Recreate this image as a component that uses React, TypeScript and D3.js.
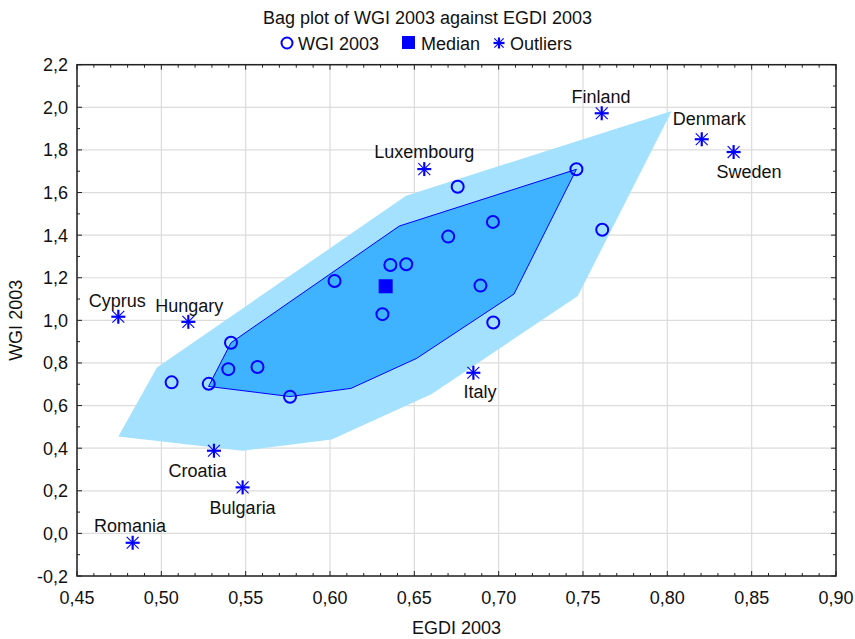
import React from "react";
import * as d3 from "d3";

// ---------- data ----------
const wgiEgdi: number[] = [0.5061, 0.5281, 0.5413, 0.5397, 0.557, 0.5763, 0.6027, 0.6311, 0.6358, 0.6452, 0.6701, 0.6757, 0.6892, 0.6966, 0.6968, 0.7461, 0.7614];
const wgiValues: number[] = [0.709, 0.702, 0.895, 0.771, 0.781, 0.641, 1.185, 1.029, 1.26, 1.263, 1.393, 1.627, 1.163, 1.462, 0.99, 1.709, 1.425];
const medianEgdi = 0.633;
const medianWgi = 1.16;
const outlierNames: string[] = ["Cyprus", "Hungary", "Croatia", "Bulgaria", "Romania", "Luxembourg", "Italy", "Finland", "Denmark", "Sweden"];
const outlierEgdi: number[] = [0.4745, 0.516, 0.5312, 0.5482, 0.483, 0.6559, 0.685, 0.7611, 0.8204, 0.8393];
const outlierWgi: number[] = [1.017, 0.993, 0.388, 0.216, -0.044, 1.71, 0.754, 1.972, 1.85, 1.79];
const outerBagEgdi: number[] = [0.4745, 0.4974, 0.6451, 0.8026, 0.7469, 0.6603, 0.601, 0.5482];
const outerBagWgi: number[] = [0.4545, 0.7784, 1.585, 1.9826, 1.1141, 0.654, 0.4413, 0.3878];
const innerBagEgdi: number[] = [0.528, 0.5413, 0.6411, 0.7461, 0.7091, 0.6514, 0.6125, 0.5763];
const innerBagWgi: number[] = [0.69, 0.895, 1.4427, 1.709, 1.1235, 0.8216, 0.6808, 0.6423];
const xTicks: number[] = [0.45, 0.5, 0.55, 0.6, 0.65, 0.7, 0.75, 0.8, 0.85, 0.9];
const yTicks: number[] = [-0.2, 0, 0.2, 0.4, 0.6, 0.8, 1.0, 1.2, 1.4, 1.6, 1.8, 2.0, 2.2];
const titleText = "Bag plot of WGI 2003 against EGDI 2003";
const xTitle = "EGDI 2003";
const yTitle = "WGI 2003";
const legendLabels = ["WGI 2003", "Median", "Outliers"];

// ---------- layout (label placement relative to marker) ----------
const labelDx: number[] = [-1, 1, -16.5, 0, -2.7, 0, 6.7, -0.7, 7.5, 15.5];
const labelDy: number[] = [-10, -10, 26, 26.5, -11, -10.7, 25.6, -10.6, -14, 25.7];

const W = 855;
const H = 639;
const left = 77, right = 836, top = 64.7, bottom = 576;
const FONT = "'Liberation Sans', Arial, sans-serif";
const BLUE = "#0000FF";

const locale = d3.formatLocale({ decimal: ",", thousands: ".", grouping: [3], currency: ["", ""], minus: "-" });
const fmt2 = locale.format(".2f");
const fmt1 = locale.format(".1f");

function Star({ x, y, s = 7 }: { x: number; y: number; s?: number }) {
  const d = s * 0.85;
  return (
    <g transform={`translate(${x},${y})`} stroke={BLUE} fill="none">
      <line x1={-s} y1={0} x2={s} y2={0} strokeWidth={2.2} />
      <line x1={0} y1={-s} x2={0} y2={s} strokeWidth={2.2} />
      <line x1={-d} y1={-d} x2={d} y2={d} strokeWidth={1.1} />
      <line x1={-d} y1={d} x2={d} y2={-d} strokeWidth={1.1} />
    </g>
  );
}

export default function App() {
  const x = d3.scaleLinear().domain([0.45, 0.9]).range([left, right]);
  const y = d3.scaleLinear().domain([-0.2, 2.2]).range([bottom, top]);

  const poly = (xs: number[], ys: number[]) =>
    d3.line<number>().x((_, i) => x(xs[i])).y((_, i) => y(ys[i])).curve(d3.curveLinearClosed)(xs) || "";

  const xMinor = d3.range(0, 46).map((i) => 0.45 + i * 0.01);
  const yMinor = d3.range(0, 25).map((i) => -0.2 + i * 0.1);

  return (
    <div style={{ position: "fixed", left: 0, top: 0 }}>
      <svg width={W} height={H} style={{ display: "block", background: "#fff" }} fontFamily={FONT}>
        <rect x={0} y={0} width={W} height={H} fill="#fff" />
        {/* title */}
        <text x={427.5} y={24} textAnchor="middle" fontSize={18} fill="#111">{titleText}</text>
        {/* legend */}
        <g fontSize={18} fill="#111">
          <circle cx={287} cy={43} r={5.5} fill="none" stroke={BLUE} strokeWidth={2} />
          <text x={298} y={49.5}>{legendLabels[0]}</text>
          <rect x={402} y={36} width={13} height={13} fill={BLUE} />
          <text x={421} y={49.5}>{legendLabels[1]}</text>
          <Star x={499} y={43} s={5.5} />
          <text x={510} y={49.5}>{legendLabels[2]}</text>
        </g>
        {/* grid */}
        <g stroke="#DCDCDC" strokeWidth={1.2}>
          {xTicks.map((t) => (
            <line key={"gx" + t} x1={x(t)} x2={x(t)} y1={top} y2={bottom} />
          ))}
          {yTicks.map((t) => (
            <line key={"gy" + t} x1={left} x2={right} y1={y(t)} y2={y(t)} />
          ))}
        </g>
        {/* bags */}
        <path d={poly(outerBagEgdi, outerBagWgi)} fill="#A3E1FE" stroke="none" />
        <path d={poly(innerBagEgdi, innerBagWgi)} fill="#3FB3FF" stroke={BLUE} strokeWidth={1} strokeLinejoin="miter" />
        {/* points */}
        {wgiEgdi.map((v, i) => (
          <circle key={"p" + i} cx={x(v)} cy={y(wgiValues[i])} r={6} fill="none" stroke={BLUE} strokeWidth={2} />
        ))}
        <rect x={x(medianEgdi) - 7} y={y(medianWgi) - 7} width={14} height={14} fill={BLUE} />
        {outlierEgdi.map((v, i) => (
          <Star key={"o" + i} x={x(v)} y={y(outlierWgi[i])} />
        ))}
        <g fontSize={18} fill="#111" textAnchor="middle">
          {outlierNames.map((n, i) => (
            <text key={"l" + i} x={x(outlierEgdi[i]) + labelDx[i]} y={y(outlierWgi[i]) + labelDy[i]}>{n}</text>
          ))}
        </g>
        {/* frame and ticks */}
        <rect x={left} y={top} width={right - left} height={bottom - top} fill="none" stroke="#222" strokeWidth={1.5} />
        <g stroke="#222" strokeWidth={1}>
          {xMinor.map((t, i) => {
            const len = i % 5 === 0 ? 5 : 3;
            return (
              <g key={"xt" + i}>
                <line x1={x(t)} x2={x(t)} y1={bottom} y2={bottom - len} />
                <line x1={x(t)} x2={x(t)} y1={top} y2={top + len} />
              </g>
            );
          })}
          {yMinor.map((t, i) => {
            const len = i % 2 === 0 ? 5 : 3;
            return (
              <g key={"yt" + i}>
                <line x1={left} x2={left + len} y1={y(t)} y2={y(t)} />
                <line x1={right} x2={right - len} y1={y(t)} y2={y(t)} />
              </g>
            );
          })}
        </g>
        {/* tick labels */}
        <g fontSize={18} fill="#111">
          {xTicks.map((t) => (
            <text key={"xl" + t} x={x(t)} y={603.5} textAnchor="middle">{fmt2(t)}</text>
          ))}
          {yTicks.map((t) => (
            <text key={"yl" + t} x={68} y={y(t) + 6.5} textAnchor="end">{fmt1(t)}</text>
          ))}
        </g>
        <text x={(left + right) / 2} y={634} textAnchor="middle" fontSize={18} fill="#111">{xTitle}</text>
        <text transform={`translate(22,${(top + bottom) / 2}) rotate(-90)`} textAnchor="middle" fontSize={18} fill="#111">{yTitle}</text>
      </svg>
    </div>
  );
}
